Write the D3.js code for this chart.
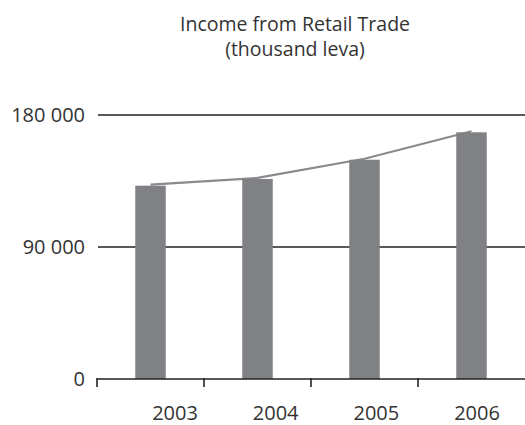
<!DOCTYPE html>
<html>
<head>
<meta charset="utf-8">
<script src="https://cdn.jsdelivr.net/npm/d3@7"></script>
<style>
  html, body { margin: 0; padding: 0; background: #fff; }
  svg { display: block; font-family: "Open Sans", "Noto Sans", sans-serif; }
</style>
</head>
<body>
<svg id="chart" width="525" height="425"></svg>
<script>
// Income from retail trade, thousand leva
const years = ["2003", "2004", "2005", "2006"];
const income = [131800, 136400, 149500, 168200];
const yTicks = [0, 90000, 180000];
const titleLines = ["Income from Retail Trade", "(thousand leva)"];

const W = 525, H = 425;
const margin = { top: 115, right: 0, bottom: 46, left: 97 };
const svg = d3.select("#chart");

const x = d3.scaleBand()
  .domain(years)
  .range([margin.left, W - margin.right])
  .paddingInner(0.715)
  .paddingOuter(0.3575);

// category slots, used for the tick marks between groups
const slot = d3.scaleBand().domain(years).range([margin.left, W - margin.right]).padding(0);

// year labels sit slightly right of the bar centres
const xLabel = d3.scalePoint().domain(years).range([175, 477]);

const y = d3.scaleLinear().domain([0, 180000]).range([H - margin.bottom, margin.top]);

const fmt = v => d3.format(",")(v).replace(/,/g, " ");

// title
svg.append("g").selectAll("text")
  .data(titleLines)
  .join("text")
  .attr("x", 295)
  .attr("y", (d, i) => 31 + i * 25)
  .attr("text-anchor", "middle")
  .attr("font-size", 19.5)
  .attr("fill", "#333")
  .text(d => d);

// horizontal rules at 90 000 and 180 000
svg.append("g").selectAll("line")
  .data(yTicks.filter(d => d > 0))
  .join("line")
  .attr("x1", margin.left + 1)
  .attr("x2", W)
  .attr("y1", d => y(d))
  .attr("y2", d => y(d))
  .attr("stroke", "#222")
  .attr("stroke-width", 1.6);

// value axis labels
svg.append("g").selectAll("text")
  .data(yTicks)
  .join("text")
  .attr("x", 85)
  .attr("y", d => y(d))
  .attr("dy", "0.35em")
  .attr("text-anchor", "end")
  .attr("font-size", 20)
  .attr("fill", "#333")
  .text(fmt);

// trend line through the bar tops
const line = d3.line()
  .x((d, i) => x(years[i]) + x.bandwidth() / 2)
  .y(d => y(d) - 1);

svg.append("path")
  .datum(income)
  .attr("d", line)
  .attr("fill", "none")
  .attr("stroke", "#8a8a8a")
  .attr("stroke-width", 2.2);

// bars
svg.append("g").selectAll("rect")
  .data(income)
  .join("rect")
  .attr("x", (d, i) => x(years[i]))
  .attr("width", x.bandwidth())
  .attr("y", d => y(d))
  .attr("height", d => y(0) - y(d))
  .attr("fill", "#808184");

// category axis
const base = y(0);
svg.append("line")
  .attr("x1", margin.left)
  .attr("x2", W)
  .attr("y1", base)
  .attr("y2", base)
  .attr("stroke", "#222")
  .attr("stroke-width", 1.6);

svg.append("g").selectAll("line")
  .data(years)
  .join("line")
  .attr("x1", d => slot(d))
  .attr("x2", d => slot(d))
  .attr("y1", base - 1)
  .attr("y2", base + 8)
  .attr("stroke", "#222")
  .attr("stroke-width", 1.6);

svg.append("g").selectAll("text")
  .data(years)
  .join("text")
  .attr("x", d => xLabel(d))
  .attr("y", 420)
  .attr("text-anchor", "middle")
  .attr("font-size", 20)
  .attr("fill", "#333")
  .text(d => d);
</script>
</body>
</html>
